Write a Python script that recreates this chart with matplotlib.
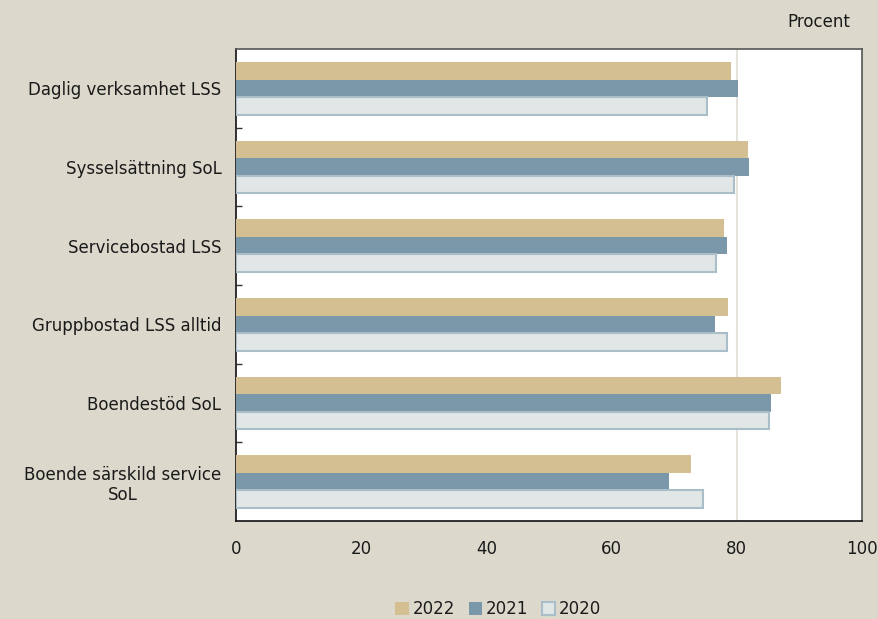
import matplotlib
matplotlib.use('Agg')
import matplotlib.pyplot as plt
import numpy as np

categories = ['Daglig verksamhet LSS', 'Sysselsättning SoL', 'Servicebostad LSS',
              'Gruppbostad LSS alltid', 'Boendestöd SoL', 'Boende särskild service\nSoL']
v2022 = [79.0, 81.8, 77.9, 78.6, 87.1, 72.7]
v2021 = [80.2, 82.0, 78.5, 76.5, 85.5, 69.2]
v2020 = [75.2, 79.5, 76.6, 78.4, 85.1, 74.6]

bg = '#dcd9cc'
txt = '#1a1a1a'
plt.rcParams['font.family'] = ['DejaVu Sans']

fig = plt.figure(figsize=(8.79, 6.19), dpi=100, facecolor=bg)
ax = fig.add_axes([0.2685, 0.1583, 0.7122, 0.7625])
ax.set_facecolor('white')

y = np.arange(len(categories))
h = 0.222
ax.barh(y - h, v2022, height=h, color='#d4bf93', label='2022', zorder=3)
ax.barh(y, v2021, height=h, color='#7a98aa', label='2021', zorder=3)
ax.barh(y + h, v2020, height=h, color='#e1e6e6', edgecolor='#a9bec8',
        linewidth=1.5, label='2020', zorder=3)

ax.set_ylim(len(categories) - 0.5, -0.5)
ax.set_xlim(0, 100)
ax.set_yticks(y)
ax.set_yticklabels(categories, fontsize=12, ha='right', multialignment='center', color=txt)
ax.tick_params(axis='y', length=0, pad=10.5)
# små streck mellan grupperna
ax.set_yticks(np.arange(0.5, len(categories) - 0.5, 1), minor=True)
ax.tick_params(axis='y', which='minor', direction='in', length=4, width=1, color='#333333')
ax.set_xticks([0, 20, 40, 60, 80, 100])
ax.tick_params(axis='x', length=0, pad=14, labelsize=12, labelcolor=txt)
ax.axvline(80, color='#e6e2dc', linewidth=1.5, zorder=1)

for s in ax.spines.values():
    s.set_color('#555555')
    s.set_linewidth(1.2)
ax.spines['left'].set_color('#111111')
ax.spines['bottom'].set_color('#111111')

fig.text(0.931, 0.964, 'Procent', ha='center', va='center', fontsize=12, color=txt)

ax.legend(loc='center', bbox_to_anchor=(0.567, 0.016), ncol=3, frameon=False,
          fontsize=12, handlelength=0.8, handleheight=0.8, handletextpad=0.25,
          columnspacing=0.8, bbox_transform=fig.transFigure, labelcolor=txt)

fig.savefig('out.png', dpi=100, facecolor=bg)
